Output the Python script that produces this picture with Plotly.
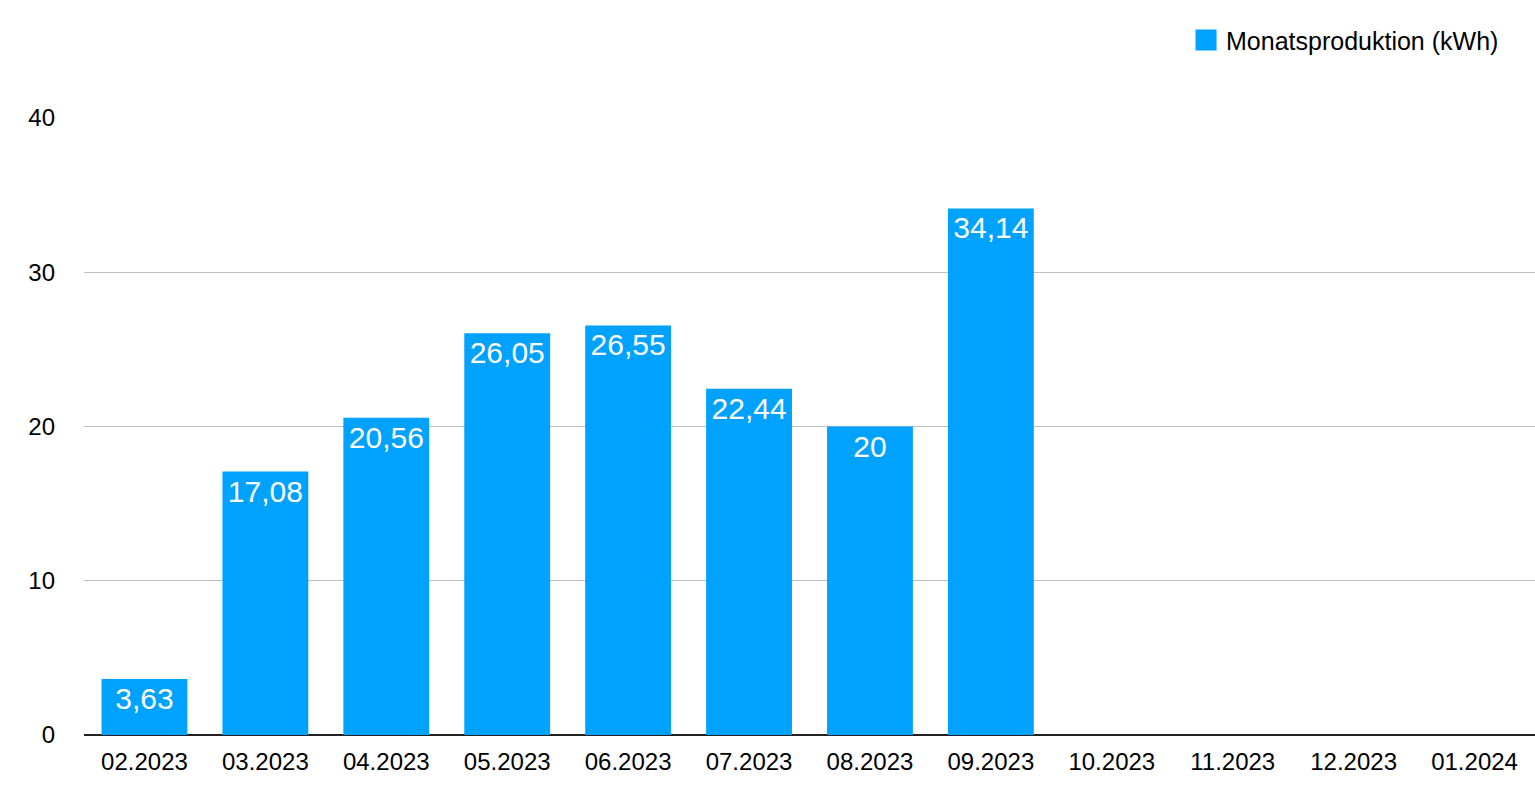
import plotly.graph_objects as go

months = ["02.2023", "03.2023", "04.2023", "05.2023", "06.2023", "07.2023",
          "08.2023", "09.2023", "10.2023", "11.2023", "12.2023", "01.2024"]
production = [3.63, 17.08, 20.56, 26.05, 26.55, 22.44, 20, 34.14, None, None, None, None]
y_ticks = [0, 10, 20, 30, 40]
series_name = "Monatsproduktion (kWh)"
BAR_COLOR = "#00A2FF"


def fmt(v):
    if v is None:
        return ""
    s = f"{v:.2f}".rstrip("0").rstrip(".")
    return s.replace(".", ",")


labels = [fmt(v) for v in production]
FONT = "Liberation Sans, Arial, Helvetica, sans-serif"

fig = go.Figure()
fig.add_trace(go.Bar(
    x=months, y=production, name=series_name,
    marker=dict(color=BAR_COLOR, line=dict(width=0)),
    text=labels, textposition="inside", insidetextanchor="end",
    textangle=0, constraintext="none",
    textfont=dict(family=FONT, size=30, color="white"),
    showlegend=False, legendgroup="prod",
))
# legend entry with a larger square swatch
fig.add_trace(go.Scatter(
    x=[None], y=[None], mode="markers", name=series_name,
    marker=dict(symbol="square", size=16, color=BAR_COLOR,
                line=dict(width=5, color=BAR_COLOR)),
    showlegend=True, legendgroup="prod", hoverinfo="skip",
))

fig.update_layout(
    width=1535, height=797,
    margin=dict(l=84, r=0, t=118, b=62),
    paper_bgcolor="white", plot_bgcolor="white",
    bargap=0.29,
    font=dict(family=FONT, size=24, color="black"),
    showlegend=True,
    legend=dict(x=0.7595, xanchor="left", y=1.126, yanchor="middle",
                font=dict(family=FONT, size=25, color="black"),
                bgcolor="rgba(0,0,0,0)"),
    xaxis=dict(showgrid=False, showline=False, ticks="", zeroline=False,
               tickfont=dict(size=24), ticklabelstandoff=10),
    yaxis=dict(range=[0, 40], tickvals=y_ticks, showgrid=True,
               gridcolor="#BDBDBD", gridwidth=1, zeroline=True,
               zerolinecolor="#222222", zerolinewidth=2, showline=False,
               ticks="", tickfont=dict(size=24), ticklabelstandoff=28),
)

fig.write_html(
    "out.html",
    config={"displayModeBar": False},
    post_script="document.body.style.margin='0';document.body.style.overflow='hidden';",
)
